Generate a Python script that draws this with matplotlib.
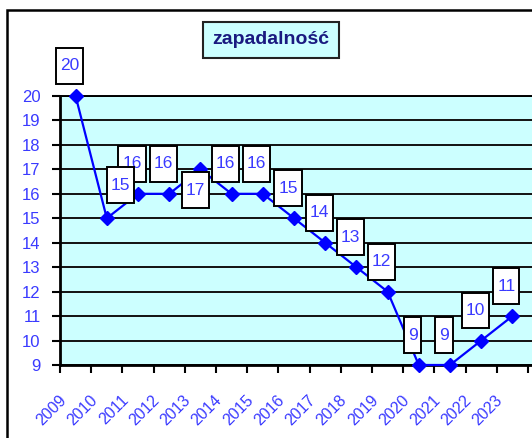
import matplotlib
matplotlib.use("Agg")
import matplotlib.pyplot as plt
from matplotlib.path import Path
from matplotlib.patches import Rectangle

years = ["2009", "2010", "2011", "2012", "2013", "2014", "2015", "2016",
         "2017", "2018", "2019", "2020", "2021", "2022", "2023"]
values = [20, 15, 16, 16, 17, 16, 16, 15, 14, 13, 12, 9, 9, 10, 11]

plt.rcParams["font.family"] = ["Liberation Sans", "DejaVu Sans"]

LINE = "#0000ff"
LABEL = "#3a3aff"
BG = "#ccffff"


def tall_box(x0, y0, width, height, mutation_size):
    # excel style label box: narrow sides, tall top/bottom padding
    px = 0.22 * mutation_size
    py = 0.6 * mutation_size
    x0, y0 = x0 - px, y0 - py
    x1, y1 = x0 + width + 2 * px, y0 + height + 2 * py
    return Path([(x0, y0), (x1, y0), (x1, y1), (x0, y1), (x0, y0)], closed=True)


fig = plt.figure(figsize=(5.32, 4.38), dpi=100)

# chart area border (the screenshot is cropped on the right and bottom)
fig.patches.append(Rectangle((7 / 532, -0.2), 1.5, 1.2 - 10 / 438,
                             transform=fig.transFigure, fill=False,
                             edgecolor="black", linewidth=1.8))

n_cat = 17
step = 31.2
ax = fig.add_axes([60 / 532, 73 / 438, n_cat * step / 532, 269 / 438])
ax.set_facecolor(BG)

x = list(range(len(values)))
ax.plot(x, values, color=LINE, linewidth=1.6, marker="D", markersize=7,
        markerfacecolor=LINE, markeredgecolor=LINE, zorder=3, clip_on=False)

ax.set_xlim(-0.5, n_cat - 0.5)
ax.set_ylim(9, 20)
ax.set_yticks(range(9, 21))
ax.tick_params(axis="y", labelsize=12, labelcolor=LABEL, length=6, width=1.5,
               direction="out", pad=8)
ax.set_xticks([i - 0.5 for i in range(n_cat + 1)])
ax.set_xticklabels([])
ax.tick_params(axis="x", length=6, width=1.5, direction="out")
ax.grid(axis="y", color="#111111", linewidth=1.4)
ax.set_axisbelow(True)
for side in ["left", "bottom"]:
    ax.spines[side].set_linewidth(2)
ax.spines["top"].set_linewidth(1.4)
ax.spines["right"].set_visible(False)

# category labels, rotated like excel
for i, yr in enumerate(years):
    ax.annotate(yr, xy=(i, 0), xycoords=("data", "axes fraction"),
                xytext=(-12, -33), textcoords="offset pixels",
                rotation=45, rotation_mode="anchor", ha="right", va="center",
                fontsize=11.5, color=LABEL, annotation_clip=False)

# data labels
for i, v in enumerate(values):
    dx, dy = -6, 30
    z = 5
    if i == 1:
        dx, dy = 14, 33
        z = 6
    elif i == 4:
        dx, dy = -5, -21
    ax.annotate(str(v), xy=(i, v), xytext=(dx, dy), textcoords="offset pixels",
                ha="center", va="center", fontsize=12.5, color=LABEL,
                annotation_clip=False, zorder=z,
                bbox=dict(boxstyle=tall_box, facecolor="white",
                          edgecolor="black", linewidth=1.4))

fig.text(271 / 532, 1 - 40 / 438, "zapadalność", ha="center", va="center",
         fontsize=14, fontweight="bold", color="#1a1a80",
         bbox=dict(boxstyle="square,pad=0.5", facecolor=BG,
                   edgecolor="#222222", linewidth=1.5))

fig.savefig("out.png", dpi=100)
